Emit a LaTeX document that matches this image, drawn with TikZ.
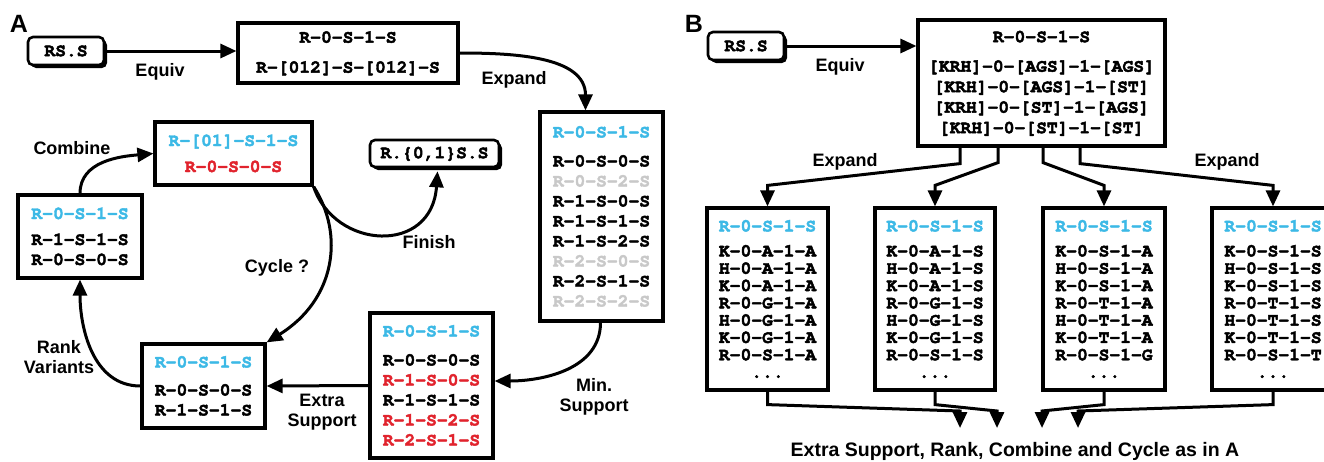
\documentclass[tikz,border=0pt]{standalone}
\usepackage[T1]{fontenc}
\usepackage{fontspec}
\setmainfont{Liberation Sans}
\setsansfont{Liberation Sans}
\newcommand\courb{\fontencoding{T1}\fontfamily{pcr}\fontseries{b}\fontshape{n}\selectfont}
\newcommand\hv[1]{\special{pdf:literal direct 2 Tr 0.45 w}#1\special{pdf:literal direct 0 Tr}}
\usetikzlibrary{arrows.meta,shadows,calc}
\definecolor{cy}{RGB}{60,185,230}
\definecolor{rd}{RGB}{225,35,45}
\definecolor{lg}{RGB}{200,200,200}
\begin{document}
\begin{tikzpicture}[x=1pt,y=-1pt,
  box/.style={draw, line width=3.2pt, fill=white, inner sep=0pt, align=center,
    font=\fontsize{18}{20}\courb},
  bbox/.style={box, font=\fontsize{18}{17.3}\courb},
  rbox/.style={draw, line width=2.6pt, rounded corners=5pt, fill=white, inner sep=0pt,
    font=\fontsize{18}{20}\courb,
    drop shadow={shadow xshift=3pt, shadow yshift=-3pt, opacity=1, fill=black}},
  arr/.style={line width=3pt, -{Triangle[length=16pt,width=14pt]}},
  lbl/.style={font=\fontsize{18}{20}\selectfont\sffamily\bfseries, align=center},
  panel/.style={font=\fontsize{25}{25}\selectfont\sffamily\bfseries},
]
\useasboundingbox (0,0) rectangle (1324,461);
\clip (0,0) rectangle (1324,461);

% ---------- Panel A ----------
\node[panel] (pA) at (19,24) {A};
\node[rbox, minimum width=76pt, minimum height=28pt] (rsA) at (66,51) {\hv{RS.S}};
\node[box, minimum width=220pt, minimum height=60pt] (b1) at (348,53)
  {\hv{R-0-S-1-S}\\[10pt]\hv{R-[012]-S-[012]-S}};
\node[box, minimum width=123pt, minimum height=209pt] (b2) at (601.5,216.5)
  {\textcolor{cy}{\hv{R-0-S-1-S}}\\[9pt]\hv{R-0-S-0-S}\\\textcolor{lg}{\hv{R-0-S-2-S}}\\\hv{R-1-S-0-S}\\\hv{R-1-S-1-S}\\\hv{R-1-S-2-S}\\\textcolor{lg}{\hv{R-2-S-0-S}}\\\hv{R-2-S-1-S}\\\textcolor{lg}{\hv{R-2-S-2-S}}};
\node[box, minimum width=123pt, minimum height=145pt] (b3) at (431.5,385.5)
  {\textcolor{cy}{\hv{R-0-S-1-S}}\\[9pt]\hv{R-0-S-0-S}\\\textcolor{rd}{\hv{R-1-S-0-S}}\\\hv{R-1-S-1-S}\\\textcolor{rd}{\hv{R-1-S-2-S}}\\\textcolor{rd}{\hv{R-2-S-1-S}}};
\node[box, minimum width=123pt, minimum height=84pt] (b4) at (203.5,386)
  {\textcolor{cy}{\hv{R-0-S-1-S}}\\[8pt]\hv{R-0-S-0-S}\\\hv{R-1-S-1-S}};
\node[box, minimum width=124pt, minimum height=83pt] (b5) at (80,236.5)
  {\textcolor{cy}{\hv{R-0-S-1-S}}\\[6pt]\hv{R-1-S-1-S}\\\hv{R-0-S-0-S}};
\node[box, minimum width=157pt, minimum height=63pt] (b6) at (233.5,153.5)
  {\textcolor{cy}{\hv{R-[01]-S-1-S}}\\[6pt]\textcolor{rd}{\hv{R-0-S-0-S}}};
\node[rbox, minimum width=129pt, minimum height=27pt] (r7) at (434.5,153.5) {\hv{R.\{0,1\}S.S}};

\draw[arr] (rsA) -- (rsA -| b1.west);
\draw[arr] (b1.east) to[out=0,in=90] ([xshift=-16pt]b2.north);
\draw[arr] ([xshift=-1pt]b2.south) to[out=-90,in=0] ([yshift=4.5pt]b3.east);
\draw[arr] (b3.west) -- (b4.east);
\draw[arr] (b4.west) to[out=180,in=-90] (b5.south);
\draw[arr] (b5.north) to[out=90,in=185] (b6.west);
\draw[arr] (b6.south east) .. controls (335,250) and (432,255) .. ([xshift=3pt,yshift=-3pt]r7.south);
\draw[arr] (b6.south east) .. controls (345,235) and (335,300) .. (b4.north east);

\node[lbl] (lEq) at (160,72) {Equiv};
\node[lbl] (lEx) at (514,80) {Expand};
\node[lbl] (lCo) at (72,148) {Combine};
\node[lbl] (lFi) at (429,242) {Finish};
\node[lbl] (lCy) at (277,268) {Cycle ?};
\node[lbl] (lRa) at (59,357) {Rank\\Variants};
\node[lbl] (lXs) at (322,412) {Extra\\Support};
\node[lbl] (lMs) at (594,397) {Min.\\Support};

% ---------- Panel B ----------
\node[panel] (pB) at (694,24) {B};
\node[rbox, minimum width=76pt, minimum height=28pt] (rsB) at (746,46) {\hv{RS.S}};
\node[box, font=\fontsize{18}{20.5}\courb, minimum width=247pt, minimum height=126pt] (B1) at (1041.5,83)
  {\hv{R-0-S-1-S}\\[9pt]\hv{[KRH]-0-[AGS]-1-[AGS]}\\\hv{[KRH]-0-[AGS]-1-[ST]}\\\hv{[KRH]-0-[ST]-1-[AGS]}\\\hv{[KRH]-0-[ST]-1-[ST]}};
\node[bbox, minimum width=121pt, minimum height=182pt] (B2) at (767.5,299)
  {\textcolor{cy}{\hv{R-0-S-1-S}}\\[7.7pt]\hv{K-0-A-1-A}\\\hv{H-0-A-1-A}\\\hv{K-0-A-1-A}\\\hv{R-0-G-1-A}\\\hv{H-0-G-1-A}\\\hv{K-0-G-1-A}\\\hv{R-0-S-1-A}\\\hv{...}};
\node[bbox, minimum width=120pt, minimum height=182pt] (B3) at (935,299)
  {\textcolor{cy}{\hv{R-0-S-1-S}}\\[7.7pt]\hv{K-0-A-1-S}\\\hv{H-0-A-1-S}\\\hv{K-0-A-1-S}\\\hv{R-0-G-1-S}\\\hv{H-0-G-1-S}\\\hv{K-0-G-1-S}\\\hv{R-0-S-1-S}\\\hv{...}};
\node[bbox, minimum width=122pt, minimum height=182pt] (B4) at (1104,299)
  {\textcolor{cy}{\hv{R-0-S-1-S}}\\[7.7pt]\hv{K-0-S-1-A}\\\hv{H-0-S-1-A}\\\hv{K-0-S-1-A}\\\hv{R-0-T-1-A}\\\hv{H-0-T-1-A}\\\hv{K-0-T-1-A}\\\hv{R-0-S-1-G}\\\hv{...}};
\node[bbox, minimum width=122pt, minimum height=182pt] (B5) at (1273,299)
  {\textcolor{cy}{\hv{R-0-S-1-S}}\\[7.7pt]\hv{K-0-S-1-S}\\\hv{H-0-S-1-S}\\\hv{K-0-S-1-S}\\\hv{R-0-T-1-S}\\\hv{H-0-T-1-S}\\\hv{K-0-T-1-S}\\\hv{R-0-S-1-T}\\\hv{...}};

\draw[arr] (rsB) -- (rsB -| B1.west);
\draw[arr] ([xshift=-81.5pt]B1.south) -- ++(0,16) -- ($(B2.north)+(0,-21)$) -- (B2.north);
\draw[arr] ([xshift=-43.5pt]B1.south) -- ++(0,15) -- ($(B3.north)+(0,-21)$) -- (B3.north);
\draw[arr] ([xshift=1.5pt]B1.south) -- ++(0,15) -- ($(B4.north)+(0,-21)$) -- (B4.north);
\draw[arr] ([xshift=38.5pt]B1.south) -- ++(0,16) -- ($(B5.north)+(0,-21)$) -- (B5.north);

\coordinate (t1) at (960,428);
\coordinate (t2) at (997,428);
\coordinate (t3) at (1042,428);
\coordinate (t4) at (1078,428);
\draw[arr] (B2.south) -- ++(0,13) -- ($(t1)+(0,-17)$) -- (t1);
\draw[arr] (B3.south) -- ++(0,13) -- ($(t2)+(0,-17)$) -- (t2);
\draw[arr] (B4.south) -- ++(0,13) -- ($(t3)+(0,-17)$) -- (t3);
\draw[arr] (B5.south) -- ++(0,13) -- ($(t4)+(0,-17)$) -- (t4);

\node[lbl] (lEqB) at (840,67) {Equiv};
\node[lbl] (lExB1) at (845,162) {Expand};
\node[lbl] (lExB2) at (1227,162) {Expand};
\node[lbl, font=\fontsize{19.5}{22}\selectfont\sffamily\bfseries] (lBot) at (1015,451) {Extra Support, Rank, Combine and Cycle as in A};
\end{tikzpicture}
\end{document}
